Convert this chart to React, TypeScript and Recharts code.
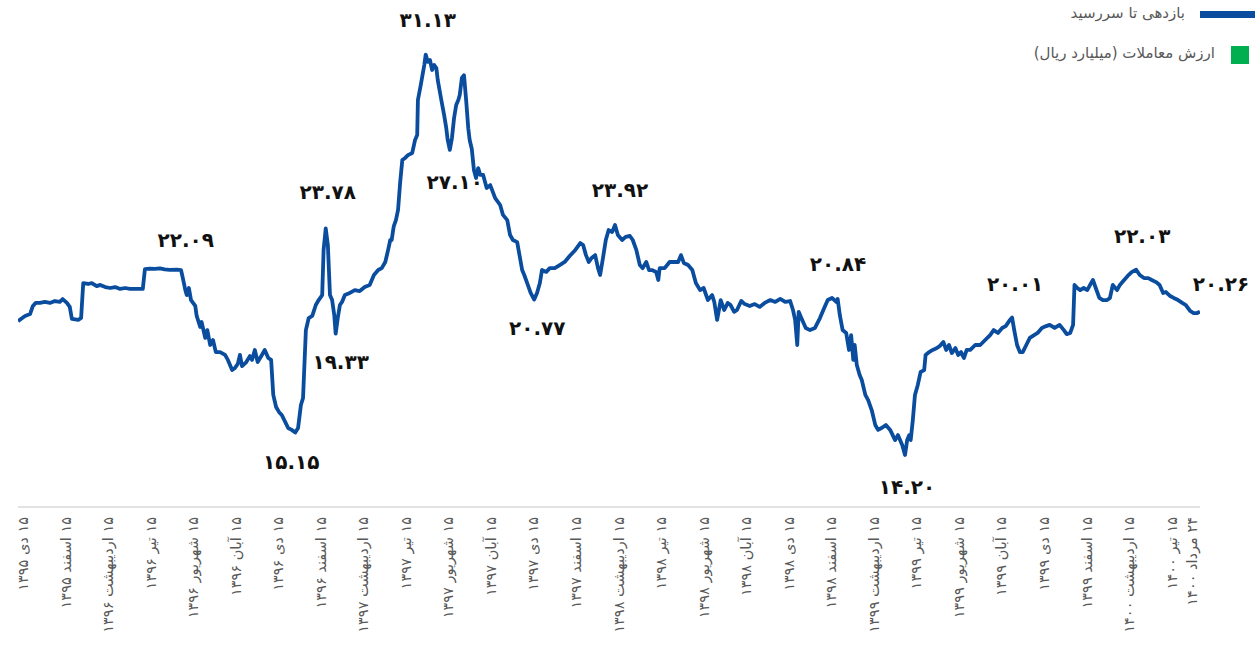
import { LineChart, Line, XAxis, YAxis, ReferenceDot } from "recharts";

// day offset from 15 Dey 1395 (ticks every ~2 months)
const days = [
  -7, -1, 3, 10, 14, 18, 24, 31, 38, 45, 52, 56, 62, 66, 69, 78, 82, 85, 92, 97,
  104, 109, 116, 123, 130, 137, 144, 151, 158, 169, 172, 179, 186, 193, 200, 207, 217, 223, 226, 229,
  231, 234, 237, 243, 245, 250, 252, 257, 260, 264, 268, 272, 278, 285, 289, 295, 299, 303, 306, 309,
  315, 320, 323, 327, 331, 337, 341, 346, 350, 353, 357, 361, 365, 370, 374, 379, 384, 388, 392, 395,
  399, 403, 408, 413, 417, 422, 424, 427, 430, 433, 436, 439, 441, 444, 447, 450, 454, 461, 468, 475,
  482, 489, 495, 501, 506, 511, 515, 518, 520, 523, 526, 529, 532, 535, 539, 543, 549, 553, 556, 557,
  561, 566, 568, 571, 574, 577, 580, 583, 585, 590, 594, 597, 599, 602, 605, 608, 611, 614, 616, 619,
  622, 625, 628, 630, 633, 636, 639, 642, 645, 649, 654, 659, 666, 673, 677, 683, 687, 691, 697, 701,
  704, 707, 712, 716, 721, 725, 729, 732, 738, 743, 750, 757, 764, 771, 779, 786, 790, 794, 798, 802,
  807, 811, 814, 818, 822, 826, 831, 835, 839, 845, 850, 856, 860, 865, 870, 874, 879, 883, 887, 893,
  896, 898, 905, 912, 920, 924, 928, 932, 938, 944, 949, 955, 960, 966, 972, 975, 979, 982, 984, 989,
  994, 998, 1003, 1007, 1013, 1018, 1025, 1032, 1039, 1046, 1054, 1061, 1068, 1075, 1082, 1086, 1089, 1092, 1094, 1099,
  1104, 1110, 1117, 1124, 1130, 1135, 1141, 1147, 1149, 1152, 1156, 1161, 1165, 1168, 1171, 1173, 1176, 1180, 1183, 1188,
  1192, 1197, 1202, 1206, 1211, 1217, 1223, 1230, 1234, 1240, 1244, 1247, 1250, 1252, 1255, 1258, 1262, 1266, 1271, 1273,
  1278, 1283, 1289, 1293, 1298, 1302, 1306, 1310, 1315, 1319, 1323, 1327, 1331, 1336, 1343, 1350, 1357, 1364, 1369, 1375,
  1381, 1386, 1392, 1395, 1398, 1402, 1406, 1410, 1415, 1420, 1426, 1431, 1437, 1443, 1448, 1455, 1462, 1468, 1472, 1477,
  1481, 1483, 1487, 1491, 1496, 1501, 1505, 1509, 1513, 1518, 1523, 1529, 1533, 1537, 1543, 1547, 1553, 1558, 1564, 1570,
  1575, 1581, 1587, 1592, 1598, 1603, 1608, 1612, 1618, 1623, 1629, 1635, 1640, 1646, 1651, 1656, 1660,
];

// yield to maturity, %
const ytm = [
  19.86, 19.99, 20.08, 20.16, 20.5, 20.63, 20.63, 20.67, 20.63, 20.71, 20.67, 20.79, 20.63, 20.46, 19.95, 19.91, 19.99, 21.47, 21.43, 21.47,
  21.34, 21.39, 21.3, 21.26, 21.3, 21.22, 21.26, 21.22, 21.22, 21.22, 22.06, 22.08, 22.07, 22.09, 22.05, 22.03, 22.04, 22.02, 21.6, 21.17,
  20.96, 21.26, 20.75, 20.5, 20.08, 19.61, 19.82, 19.15, 19.48, 18.85, 19.06, 18.55, 18.55, 18.43, 18.22, 17.79, 17.88, 18.05, 18.43, 17.96,
  18.13, 18.38, 18.22, 18.64, 18.13, 18.43, 18.64, 18.3, 18.22, 16.74, 16.23, 16.02, 15.89, 15.59, 15.34, 15.26, 15.15, 15.34, 16.31, 16.61,
  19.48, 19.99, 20.08, 20.54, 20.75, 20.96, 22.87, 23.78, 23.08, 20.96, 20.75, 20.12, 19.33, 19.99, 20.54, 20.67, 20.96, 21.05, 21.17, 21.13,
  21.3, 21.39, 21.81, 22.02, 22.1, 22.36, 22.87, 23.29, 23.29, 23.88, 24.13, 24.56, 25.74, 26.67, 26.76, 26.88, 26.97, 27.52, 27.73, 29.21,
  29.84, 30.69, 31.13, 30.82, 30.9, 30.48, 30.69, 30.56, 30.05, 29.21, 28.57, 28.02, 27.52, 27.1, 27.6, 28.45, 29.0, 29.21, 29.42, 30.14,
  30.26, 29.21, 28.02, 27.52, 27.14, 26.25, 25.91, 26.33, 26.04, 26.04, 25.49, 25.61, 25.06, 24.77, 24.35, 24.13, 23.5, 23.29, 23.2, 22.53,
  22.02, 21.81, 21.39, 21.05, 20.77, 21.05, 21.47, 22.02, 21.94, 22.1, 22.1, 22.23, 22.36, 22.61, 22.87, 23.16, 23.08, 22.65, 22.36, 22.53,
  22.65, 22.1, 21.81, 22.53, 23.29, 23.71, 23.63, 23.92, 23.5, 23.29, 23.42, 23.46, 23.29, 22.87, 22.23, 22.1, 22.36, 22.02, 22.02, 21.94,
  21.6, 22.1, 22.1, 22.36, 22.36, 22.36, 22.65, 22.32, 22.23, 22.02, 21.47, 21.17, 21.26, 20.75, 20.96, 20.67, 19.91, 20.41, 20.75, 20.33,
  20.63, 20.54, 20.25, 20.33, 20.71, 20.58, 20.5, 20.58, 20.46, 20.63, 20.75, 20.67, 20.8, 20.67, 20.71, 20.33, 19.91, 18.85, 20.25, 19.91,
  19.57, 19.48, 19.57, 19.99, 20.41, 20.75, 20.84, 20.67, 20.8, 20.12, 19.48, 19.36, 18.64, 19.27, 18.22, 18.85, 18.0, 17.58, 17.37, 16.74,
  16.52, 16.1, 15.47, 15.26, 15.34, 15.47, 15.26, 14.83, 15.04, 14.62, 14.2, 14.83, 15.04, 14.83, 15.68, 16.74, 17.16, 17.71, 17.79, 18.43,
  18.55, 18.64, 18.72, 18.81, 18.98, 18.64, 18.85, 18.51, 18.72, 18.43, 18.55, 18.3, 18.64, 18.64, 18.85, 18.85, 19.06, 19.27, 19.48, 19.36,
  19.57, 19.65, 19.91, 20.01, 19.48, 18.85, 18.55, 18.55, 18.85, 19.15, 19.27, 19.36, 19.57, 19.65, 19.7, 19.57, 19.7, 19.48, 19.31, 19.36,
  19.7, 21.39, 21.26, 21.17, 21.26, 21.17, 21.39, 21.6, 21.26, 20.84, 20.75, 20.75, 20.84, 21.39, 21.17, 21.39, 21.6, 21.77, 21.94, 22.03,
  21.81, 21.68, 21.68, 21.6, 21.51, 21.39, 21.05, 21.09, 20.92, 20.84, 20.75, 20.63, 20.54, 20.29, 20.2, 20.2, 20.26,
];

const tickDays = [
  0, 60, 120, 180, 240, 300, 360, 420, 480, 540, 600, 660, 720, 780, 840,
  900, 960, 1020, 1080, 1140, 1200, 1260, 1320, 1380, 1440, 1500, 1560, 1620, 1649,
];
const tickLabels = [
  "۱۵ دی ۱۳۹۵", "۱۵ اسفند ۱۳۹۵", "۱۵ اردیبهشت ۱۳۹۶", "۱۵ تیر ۱۳۹۶", "۱۵ شهریور ۱۳۹۶",
  "۱۵ آبان ۱۳۹۶", "۱۵ دی ۱۳۹۶", "۱۵ اسفند ۱۳۹۶", "۱۵ اردیبهشت ۱۳۹۷", "۱۵ تیر ۱۳۹۷",
  "۱۵ شهریور ۱۳۹۷", "۱۵ آبان ۱۳۹۷", "۱۵ دی ۱۳۹۷", "۱۵ اسفند ۱۳۹۷", "۱۵ اردیبهشت ۱۳۹۸",
  "۱۵ تیر ۱۳۹۸", "۱۵ شهریور ۱۳۹۸", "۱۵ آبان ۱۳۹۸", "۱۵ دی ۱۳۹۸", "۱۵ اسفند ۱۳۹۸",
  "۱۵ اردیبهشت ۱۳۹۹", "۱۵ تیر ۱۳۹۹", "۱۵ شهریور ۱۳۹۹", "۱۵ آبان ۱۳۹۹", "۱۵ دی ۱۳۹۹",
  "۱۵ اسفند ۱۳۹۹", "۱۵ اردیبهشت ۱۴۰۰", "۱۵ تیر ۱۴۰۰", "۲۴ مرداد ۱۴۰۰",
];

// points that carry a value label
const noteDays = [193, 427, 568, 602, 835, 441, 384, 721, 1141, 1244, 1395, 1570, 1660];
// label offset from its point, px
const noteOffsets = [
  [26, -28], [2, -36], [2, -35], [5, 32], [5, -35], [5, 28], [-4, 29],
  [3, 28], [6, -34], [2, 32], [3, -34], [6, -34], [21, -28],
];

const BLUE = "#0A4D9E";
const GREEN = "#00B050";
const FA = "۰۱۲۳۴۵۶۷۸۹";
const toFa = (s: string) => s.replace(/\d/g, (c) => FA[+c]);

const rows = days.map((d, i) => ({ d, ytm: ytm[i] }));

function DateTick(props: any) {
  const { x, y, payload } = props;
  const label = tickLabels[tickDays.indexOf(payload.value)];
  return (
    <text
      x={x}
      y={y + 2}
      transform={`rotate(-90 ${x} ${y + 2})`}
      direction="rtl"
      textAnchor="start"
      dominantBaseline="central"
      fill="#595959"
      fontSize={14.5}
      fontFamily="DejaVu Sans"
    >
      {label}
    </text>
  );
}

export default function App() {
  return (
    <div style={{ position: "absolute", left: 0, top: 0, width: 1258, height: 646, background: "#fff" }}>
      <LineChart width={1258} height={646} data={rows} margin={{ top: 34, right: 58, bottom: 0, left: 18 }}>
        <XAxis
          type="number"
          dataKey="d"
          domain={[-7, 1660]}
          ticks={tickDays}
          interval={0}
          height={139}
          allowDataOverflow
          axisLine={{ stroke: "#D9D9D9", strokeWidth: 1.5 }}
          tickLine={false}
          tick={<DateTick />}
        />
        <YAxis hide domain={[12, 32]} />
        <Line
          type="linear"
          dataKey="ytm"
          stroke={BLUE}
          strokeWidth={3.8}
          strokeLinejoin="round"
          dot={false}
          activeDot={false}
          isAnimationActive={false}
        />
        {noteDays.map((d, i) => {
          const v = ytm[days.indexOf(d)];
          const [dx, dy] = noteOffsets[i];
          return (
            <ReferenceDot
              key={d}
              x={d}
              y={v}
              r={0}
              shape={(p: any) => (
                <text
                  x={p.cx + dx}
                  y={p.cy + dy}
                  textAnchor="middle"
                  dominantBaseline="central"
                  fontFamily="DejaVu Sans"
                  fontWeight="bold"
                  fontSize={20}
                  fill="#111"
                >
                  {toFa(v.toFixed(2))}
                </text>
              )}
            />
          );
        })}
      </LineChart>

      {/* legend */}
      <div style={{ position: "absolute", left: 1200, top: 11, width: 55, height: 7, background: BLUE }} />
      <div
        style={{
          position: "absolute", right: 73, top: 3, direction: "rtl", fontFamily: "DejaVu Sans",
          fontSize: 15, lineHeight: "20px", color: "#595959", whiteSpace: "nowrap",
        }}
      >
        بازدهی تا سررسید
      </div>
      <div style={{ position: "absolute", left: 1231, top: 46, width: 18, height: 18, background: GREEN }} />
      <div
        style={{
          position: "absolute", right: 43, top: 43, direction: "rtl", fontFamily: "DejaVu Sans",
          fontSize: 15, lineHeight: "20px", color: "#595959", whiteSpace: "nowrap",
        }}
      >
        ارزش معاملات (میلیارد ریال)
      </div>
    </div>
  );
}
